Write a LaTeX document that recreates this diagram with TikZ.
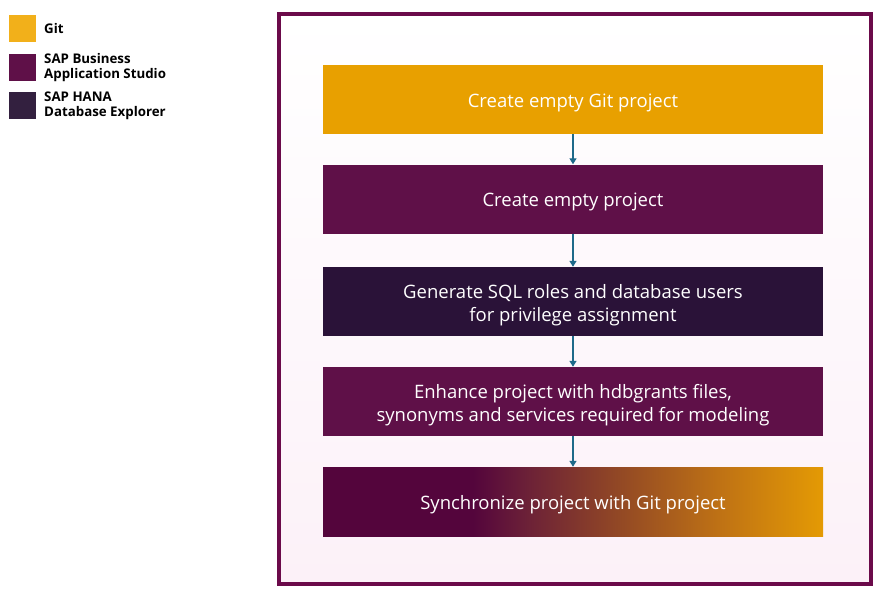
\documentclass[tikz,border=0pt]{standalone}
\usepackage{fontspec}
\setmainfont{Open Sans}
\usetikzlibrary{arrows.meta}
\definecolor{gitc}{HTML}{E8A000}
\definecolor{gitleg}{HTML}{F2B01A}
\definecolor{basc}{HTML}{5F1048}
\definecolor{hanac}{HTML}{2A1238}
\definecolor{hanaleg}{HTML}{33203F}
\definecolor{framec}{HTML}{6B0A4A}
\definecolor{pinkbg}{HTML}{FCF1F8}
\definecolor{arrowc}{HTML}{1E6A8A}
\definecolor{syncA}{HTML}{54053C}
\definecolor{syncB}{HTML}{6A1F38}
\definecolor{syncC}{HTML}{944A24}
\definecolor{syncD}{HTML}{C07314}
\definecolor{syncE}{HTML}{E49A04}
\pgfdeclarehorizontalshading{syncshade}{100bp}{%
  color(0bp)=(syncA); color(40bp)=(syncA);
  color(45bp)=(syncB); color(55bp)=(syncC); color(65bp)=(syncD);
  color(75bp)=(syncE); color(100bp)=(syncE)}
\begin{document}
\begin{tikzpicture}[x=1pt,y=-1pt,
  stepbox/.style={minimum width=500pt,minimum height=69pt,inner sep=0pt},
  steptext/.style={inner sep=0pt,text=white,align=center,
    font=\fontsize{18.5}{23}\selectfont},
  legsq/.style={minimum width=27pt,minimum height=27pt,inner sep=0pt},
  legtxt/.style={anchor=west,align=left,inner sep=0pt,
    font=\bfseries\fontsize{13.3}{14.5}\selectfont},
  flow/.style={draw=arrowc,line width=1.3pt,-{Triangle[length=6pt,width=7pt]}}]
\useasboundingbox (0,0) rectangle (887,600);
% legend
\node[legsq,fill=gitleg] (lg1) at (22.5,28.5) {};
\node[legtxt] (lt1) at (44,29) {Git};
\node[legsq,fill=basc] (lg2) at (22.5,67) {};
\node[legtxt] (lt2) at (44,67.5) {SAP Business\\Application Studio};
\node[legsq,fill=hanaleg] (lg3) at (22.5,105.5) {};
\node[legtxt] (lt3) at (44,106) {SAP HANA\\Database Explorer};
% frame
\shade[top color=white,bottom color=pinkbg] (279,14) rectangle (871,584);
\draw[framec,line width=3.5pt] (279,14) rectangle (871,584);
% steps
\node[stepbox,fill=gitc] (s1) at (573,99.5) {};
\node[stepbox,fill=basc] (s2) at (573,199) {};
\node[stepbox,fill=hanac] (s3) at (573,301.5) {};
\node[stepbox,fill=basc] (s4) at (573,401.5) {};
\node[stepbox,shading=syncshade] (s5) at (573,501.5) {};
\node[steptext] (t1) at ([yshift=-3pt]s1.center) {Create empty Git project};
\node[steptext] (t2) at ([yshift=-3pt]s2.center) {Create empty project};
\node[steptext] (t3) at ([yshift=-3.5pt]s3.center) {Generate SQL roles and database users\\for privilege assignment};
\node[steptext] (t4) at ([yshift=-3.5pt]s4.center) {Enhance project with hdbgrants files,\\synonyms and services required for modeling};
\node[steptext] (t5) at ([yshift=-3pt]s5.center) {Synchronize project with Git project};
\draw[flow] (s1) -- (s2);
\draw[flow] (s2) -- (s3);
\draw[flow] (s3) -- (s4);
\draw[flow] (s4) -- (s5);
\end{tikzpicture}
\end{document}
